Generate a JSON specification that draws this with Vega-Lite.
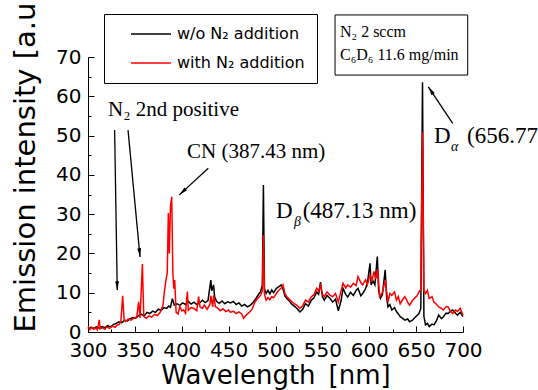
{
  "$schema": "https://vega.github.io/schema/vega-lite/v6.json",
  "width": 375,
  "height": 275,
  "autosize": "none",
  "padding": {"left": 88, "top": 57, "right": 75, "bottom": 58},
  "background": "white",
  "config": {
    "view": {"stroke": null},
    "axis": {
      "domainColor": "black", "tickColor": "black", "labelColor": "black", "titleColor": "black",
      "labelFont": "DejaVu Sans", "titleFont": "DejaVu Sans", "titleFontWeight": "normal",
      "grid": false, "domainWidth": 1, "tickWidth": 1
    }
  },
  "datasets": {
    "spec": [
      {"s":"a","w":300,"v":0.8},{"s":"a","w":303,"v":1.2},{"s":"a","w":306,"v":0.9},{"s":"a","w":309,"v":1.3},{"s":"a","w":312,"v":1.0},
      {"s":"a","w":315,"v":1.4},{"s":"a","w":318,"v":1.1},{"s":"a","w":321,"v":1.6},{"s":"a","w":324,"v":1.3},{"s":"a","w":327,"v":1.9},
      {"s":"a","w":330,"v":2.2},{"s":"a","w":333,"v":2.6},{"s":"a","w":336,"v":2.4},{"s":"a","w":339,"v":3.0},{"s":"a","w":342,"v":2.8},
      {"s":"a","w":345,"v":3.4},{"s":"a","w":348,"v":3.7},{"s":"a","w":351,"v":3.5},{"s":"a","w":354,"v":4.2},{"s":"a","w":357,"v":4.5},
      {"s":"a","w":360,"v":4.1},{"s":"a","w":363,"v":5.0},{"s":"a","w":366,"v":4.7},{"s":"a","w":369,"v":5.3},{"s":"a","w":372,"v":5.0},
      {"s":"a","w":375,"v":5.8},{"s":"a","w":378,"v":5.5},{"s":"a","w":381,"v":6.2},{"s":"a","w":384,"v":6.0},{"s":"a","w":386,"v":6.6},
      {"s":"a","w":388,"v":6.3},{"s":"a","w":390,"v":8.5},{"s":"a","w":392,"v":6.9},{"s":"a","w":395,"v":7.2},{"s":"a","w":398,"v":6.8},
      {"s":"a","w":401,"v":7.4},{"s":"a","w":404,"v":7.0},{"s":"a","w":407,"v":7.8},{"s":"a","w":410,"v":7.1},{"s":"a","w":413,"v":7.6},
      {"s":"a","w":416,"v":7.0},{"s":"a","w":419,"v":7.4},{"s":"a","w":422,"v":8.1},{"s":"a","w":425,"v":7.5},{"s":"a","w":428,"v":8.0},
      {"s":"a","w":430,"v":11.5},{"s":"a","w":431,"v":13.2},{"s":"a","w":432,"v":10.5},{"s":"a","w":434,"v":12.0},{"s":"a","w":435,"v":9.0},
      {"s":"a","w":437,"v":7.8},{"s":"a","w":440,"v":7.3},{"s":"a","w":443,"v":7.9},{"s":"a","w":446,"v":7.2},{"s":"a","w":449,"v":7.7},
      {"s":"a","w":452,"v":7.4},{"s":"a","w":455,"v":7.8},{"s":"a","w":458,"v":7.0},{"s":"a","w":461,"v":7.4},{"s":"a","w":464,"v":6.6},
      {"s":"a","w":467,"v":7.0},{"s":"a","w":470,"v":6.4},{"s":"a","w":473,"v":6.8},{"s":"a","w":476,"v":7.5},{"s":"a","w":479,"v":8.5},
      {"s":"a","w":482,"v":9.6},{"s":"a","w":484,"v":10.2},{"s":"a","w":486,"v":12.0},{"s":"a","w":487.1,"v":37.4},{"s":"a","w":488.2,"v":11.0},
      {"s":"a","w":490,"v":9.8},{"s":"a","w":492,"v":10.6},{"s":"a","w":494,"v":9.7},{"s":"a","w":496,"v":10.7},{"s":"a","w":498,"v":10.0},
      {"s":"a","w":501,"v":11.1},{"s":"a","w":504,"v":11.6},{"s":"a","w":506,"v":12.0},{"s":"a","w":508,"v":11.0},{"s":"a","w":510,"v":9.2},
      {"s":"a","w":512,"v":8.5},{"s":"a","w":514,"v":8.1},{"s":"a","w":517,"v":7.2},{"s":"a","w":520,"v":6.6},{"s":"a","w":523,"v":6.0},
      {"s":"a","w":526,"v":5.1},{"s":"a","w":529,"v":5.8},{"s":"a","w":532,"v":7.2},{"s":"a","w":535,"v":6.6},{"s":"a","w":538,"v":8.0},
      {"s":"a","w":541,"v":8.7},{"s":"a","w":544,"v":10.2},{"s":"a","w":546,"v":9.6},{"s":"a","w":548,"v":12.7},{"s":"a","w":550,"v":9.0},
      {"s":"a","w":552,"v":8.1},{"s":"a","w":555,"v":9.3},{"s":"a","w":558,"v":8.6},{"s":"a","w":561,"v":7.6},{"s":"a","w":564,"v":8.4},
      {"s":"a","w":567,"v":5.4},{"s":"a","w":570,"v":8.0},{"s":"a","w":572,"v":11.1},{"s":"a","w":575,"v":9.5},{"s":"a","w":577,"v":8.9},
      {"s":"a","w":580,"v":10.1},{"s":"a","w":583,"v":9.3},{"s":"a","w":586,"v":10.6},{"s":"a","w":588,"v":11.1},{"s":"a","w":591,"v":9.2},
      {"s":"a","w":593,"v":9.8},{"s":"a","w":596,"v":11.0},{"s":"a","w":598,"v":12.4},{"s":"a","w":600.8,"v":17.5},{"s":"a","w":602,"v":12.0},
      {"s":"a","w":604,"v":13.0},{"s":"a","w":606,"v":12.0},{"s":"a","w":608.6,"v":19.2},{"s":"a","w":610,"v":10.5},{"s":"a","w":612,"v":8.6},
      {"s":"a","w":614,"v":9.5},{"s":"a","w":617,"v":15.8},{"s":"a","w":618.5,"v":9.0},{"s":"a","w":620,"v":6.4},{"s":"a","w":622,"v":7.0},
      {"s":"a","w":624,"v":5.6},{"s":"a","w":627,"v":6.2},{"s":"a","w":629,"v":5.2},{"s":"a","w":631,"v":4.6},{"s":"a","w":633,"v":3.9},
      {"s":"a","w":636,"v":3.4},{"s":"a","w":638,"v":3.0},{"s":"a","w":641,"v":3.3},{"s":"a","w":643,"v":2.6},{"s":"a","w":646,"v":3.0},
      {"s":"a","w":648,"v":3.5},{"s":"a","w":651,"v":4.2},{"s":"a","w":653,"v":4.7},{"s":"a","w":655,"v":6.0},{"s":"a","w":656.8,"v":63.6},
      {"s":"a","w":658.3,"v":4.0},{"s":"a","w":660,"v":1.8},{"s":"a","w":662,"v":2.2},{"s":"a","w":664,"v":1.4},{"s":"a","w":667,"v":2.0},
      {"s":"a","w":669,"v":1.8},{"s":"a","w":672,"v":3.0},{"s":"a","w":674,"v":4.3},{"s":"a","w":677,"v":3.4},{"s":"a","w":679,"v":3.9},
      {"s":"a","w":682,"v":4.8},{"s":"a","w":684,"v":4.7},{"s":"a","w":687,"v":5.3},{"s":"a","w":689,"v":5.6},{"s":"a","w":692,"v":4.8},
      {"s":"a","w":694,"v":4.3},{"s":"a","w":697,"v":5.0},{"s":"a","w":700,"v":3.9},
      {"s":"b","w":300,"v":1.4},{"s":"b","w":302,"v":0.6},{"s":"b","w":304,"v":1.2},{"s":"b","w":306,"v":0.7},{"s":"b","w":308,"v":1.0},
      {"s":"b","w":310,"v":0.5},{"s":"b","w":312,"v":3.1},{"s":"b","w":313,"v":0.8},{"s":"b","w":315,"v":1.1},{"s":"b","w":318,"v":0.7},
      {"s":"b","w":320,"v":1.3},{"s":"b","w":323,"v":0.9},{"s":"b","w":326,"v":1.5},{"s":"b","w":329,"v":1.2},{"s":"b","w":331,"v":1.8},
      {"s":"b","w":333,"v":1.9},{"s":"b","w":335,"v":2.6},{"s":"b","w":337,"v":9.2},{"s":"b","w":338.5,"v":3.2},{"s":"b","w":340,"v":2.7},
      {"s":"b","w":343,"v":3.3},{"s":"b","w":346,"v":3.0},{"s":"b","w":349,"v":3.6},{"s":"b","w":352,"v":3.8},{"s":"b","w":354,"v":7.7},
      {"s":"b","w":355.5,"v":3.6},{"s":"b","w":358,"v":17.3},{"s":"b","w":359.5,"v":4.0},{"s":"b","w":362,"v":3.5},{"s":"b","w":365,"v":4.1},
      {"s":"b","w":368,"v":3.8},{"s":"b","w":371,"v":4.5},{"s":"b","w":374,"v":4.2},{"s":"b","w":377,"v":5.0},{"s":"b","w":380,"v":6.8},
      {"s":"b","w":381.5,"v":10.3},{"s":"b","w":383,"v":13.0},{"s":"b","w":384.5,"v":15.0},{"s":"b","w":385.7,"v":30.3},{"s":"b","w":386.7,"v":20.0},
      {"s":"b","w":388,"v":32.0},{"s":"b","w":389.3,"v":34.4},{"s":"b","w":390.5,"v":15.0},{"s":"b","w":391.5,"v":11.0},{"s":"b","w":392.5,"v":13.2},
      {"s":"b","w":394,"v":5.0},{"s":"b","w":396,"v":4.6},{"s":"b","w":398,"v":6.5},{"s":"b","w":400,"v":5.4},{"s":"b","w":402,"v":5.6},
      {"s":"b","w":404,"v":4.8},{"s":"b","w":406,"v":10.3},{"s":"b","w":407,"v":5.5},{"s":"b","w":410,"v":6.2},{"s":"b","w":413,"v":6.0},
      {"s":"b","w":416,"v":5.4},{"s":"b","w":418,"v":9.0},{"s":"b","w":419.5,"v":6.4},{"s":"b","w":422,"v":6.0},{"s":"b","w":424,"v":6.9},
      {"s":"b","w":427,"v":5.8},{"s":"b","w":430,"v":7.0},{"s":"b","w":431,"v":9.2},{"s":"b","w":433,"v":6.4},{"s":"b","w":434,"v":9.3},
      {"s":"b","w":436,"v":6.4},{"s":"b","w":438,"v":6.2},{"s":"b","w":441,"v":5.4},{"s":"b","w":444,"v":5.9},{"s":"b","w":447,"v":5.2},
      {"s":"b","w":450,"v":5.6},{"s":"b","w":452,"v":5.0},{"s":"b","w":455,"v":5.3},{"s":"b","w":458,"v":4.7},{"s":"b","w":461,"v":5.1},
      {"s":"b","w":464,"v":4.6},{"s":"b","w":466,"v":3.5},{"s":"b","w":469,"v":4.4},{"s":"b","w":472,"v":5.0},{"s":"b","w":475,"v":5.8},
      {"s":"b","w":478,"v":7.6},{"s":"b","w":481,"v":8.5},{"s":"b","w":484,"v":9.3},{"s":"b","w":486,"v":10.5},{"s":"b","w":487.1,"v":24.7},
      {"s":"b","w":488.2,"v":9.5},{"s":"b","w":490,"v":8.1},{"s":"b","w":492,"v":8.8},{"s":"b","w":494,"v":8.2},{"s":"b","w":496,"v":9.0},
      {"s":"b","w":498,"v":8.7},{"s":"b","w":501,"v":9.8},{"s":"b","w":503,"v":10.5},{"s":"b","w":506,"v":11.1},{"s":"b","w":508,"v":12.0},
      {"s":"b","w":510,"v":9.8},{"s":"b","w":512,"v":9.0},{"s":"b","w":514,"v":8.5},{"s":"b","w":517,"v":7.8},{"s":"b","w":520,"v":7.2},
      {"s":"b","w":523,"v":6.8},{"s":"b","w":526,"v":6.0},{"s":"b","w":529,"v":6.7},{"s":"b","w":532,"v":8.1},{"s":"b","w":535,"v":7.6},
      {"s":"b","w":538,"v":8.9},{"s":"b","w":541,"v":9.5},{"s":"b","w":544,"v":11.1},{"s":"b","w":546,"v":10.4},{"s":"b","w":548,"v":11.9},
      {"s":"b","w":550,"v":9.6},{"s":"b","w":552,"v":9.0},{"s":"b","w":555,"v":10.2},{"s":"b","w":558,"v":9.4},{"s":"b","w":561,"v":9.0},
      {"s":"b","w":564,"v":9.8},{"s":"b","w":567,"v":7.6},{"s":"b","w":570,"v":10.5},{"s":"b","w":572,"v":12.4},{"s":"b","w":575,"v":11.2},
      {"s":"b","w":577,"v":12.0},{"s":"b","w":580,"v":11.4},{"s":"b","w":583,"v":12.4},{"s":"b","w":586,"v":11.8},{"s":"b","w":588,"v":14.1},
      {"s":"b","w":591,"v":12.6},{"s":"b","w":593,"v":12.0},{"s":"b","w":596,"v":13.3},{"s":"b","w":598,"v":12.0},{"s":"b","w":600.8,"v":14.5},
      {"s":"b","w":603,"v":13.0},{"s":"b","w":605,"v":15.4},{"s":"b","w":607,"v":13.5},{"s":"b","w":609,"v":16.0},{"s":"b","w":611,"v":9.0},
      {"s":"b","w":614,"v":10.0},{"s":"b","w":617,"v":13.2},{"s":"b","w":618.5,"v":10.2},{"s":"b","w":620,"v":7.6},{"s":"b","w":622,"v":9.8},
      {"s":"b","w":624,"v":9.3},{"s":"b","w":627,"v":10.2},{"s":"b","w":629,"v":8.1},{"s":"b","w":631,"v":9.0},{"s":"b","w":633,"v":7.2},
      {"s":"b","w":636,"v":8.4},{"s":"b","w":638,"v":9.0},{"s":"b","w":641,"v":7.6},{"s":"b","w":643,"v":6.8},{"s":"b","w":646,"v":8.0},
      {"s":"b","w":648,"v":8.5},{"s":"b","w":651,"v":9.2},{"s":"b","w":653,"v":10.2},{"s":"b","w":655,"v":10.8},{"s":"b","w":656.8,"v":50.9},
      {"s":"b","w":658.3,"v":10.5},{"s":"b","w":660,"v":9.8},{"s":"b","w":662,"v":10.6},{"s":"b","w":664,"v":8.5},{"s":"b","w":667,"v":9.0},
      {"s":"b","w":669,"v":7.6},{"s":"b","w":672,"v":7.0},{"s":"b","w":674,"v":6.4},{"s":"b","w":677,"v":6.0},{"s":"b","w":679,"v":5.6},
      {"s":"b","w":682,"v":6.5},{"s":"b","w":684,"v":6.4},{"s":"b","w":687,"v":5.2},{"s":"b","w":689,"v":4.7},{"s":"b","w":692,"v":5.6},
      {"s":"b","w":694,"v":5.2},{"s":"b","w":697,"v":6.0},{"s":"b","w":700,"v":4.3}
    ],
    "arrows": [
      {"x":328.4,"y":51.4,"x2":331.2,"y2":10.7,"a":179},
      {"x":342.7,"y":51.4,"x2":355.5,"y2":19.1,"a":174.6},
      {"x":428.3,"y":41.7,"x2":397.4,"y2":34.9,"a":227.4},
      {"x":689.0,"y":53.1,"x2":663.0,"y2":62.4,"a":326.3}
    ],
    "labels": [
      {"x":321.3,"y":55.0,"t":"N₂ 2nd positive"},
      {"x":405.6,"y":44.3,"t":"CN (387.43 nm)"}
    ],
    "dlabels": [
      {"x":500.5,"y":29.0,"t":"D"},
      {"x":529.0,"y":29.0,"t":"(487.13 nm)"},
      {"x":669.1,"y":48.1,"t":"D"},
      {"x":704.3,"y":48.1,"t":"(656.77 nm)"}
    ],
    "greek": [
      {"x":519.7,"y":27.0,"t":"β"},
      {"x":687.2,"y":46.1,"t":"α"}
    ],
    "box": [
      {"x":563.5,"x2":705.0,"y":80.7,"y2":65.4}
    ],
    "boxtext": [
      {"x":568.8,"y":75.1,"t":"N₂ 2 sccm"},
      {"x":568.8,"y":69.2,"t":"C₆D₆ 11.6 mg/min"}
    ]
  },
  "layer": [
    {
      "data": {"name": "spec"},
      "mark": {"type": "line", "strokeWidth": 1.5},
      "encoding": {
        "x": {"field": "w", "type": "quantitative", "scale": {"domain": [300, 700], "nice": false, "zero": false},
          "axis": {"orient": "bottom", "values": [300,350,400,450,500,550,600,650,700], "tickSize": -6, "labelFontSize": 20, "labelPadding": 14,
            "labelOverlap": false, "labelFlush": false, "title": "Wavelength\u2002[nm]", "titleFontSize": 26, "titlePadding": 2}},
        "y": {"field": "v", "type": "quantitative", "scale": {"domain": [0, 70], "nice": false},
          "axis": {"orient": "left", "values": [0,10,20,30,40,50,60,70], "tickSize": -6, "labelFontSize": 20, "labelPadding": 13,
            "labelOverlap": false, "labelFlush": false, "title": "Emission intensity [a.u.]", "titleFontSize": 29, "titleAnchor": "start", "titlePadding": 15}},
        "color": {"field": "s", "type": "nominal", "scale": {"domain": ["a", "b"], "range": ["#000000", "#ff0000"]},
          "legend": {"orient": "none", "legendX": 16, "legendY": -43, "direction": "vertical", "title": null,
            "symbolType": "M1.4,0H9.4", "symbolSize": 100, "symbolStrokeWidth": 1.5, "labelFont": "DejaVu Sans", "labelFontSize": 16,
            "labelColor": "black", "labelOffset": 45, "strokeColor": "black", "fillColor": "white", "padding": 12, "rowPadding": 13, "labelLimit": 300,
            "labelExpr": "datum.label == 'a' ? 'w/o N₂ addition\u00a0\u00a0\u00a0' : 'with N₂ addition\u00a0\u00a0\u00a0'"}}
      }
    },
    {
      "data": {"name": "arrows"},
      "mark": {"type": "rule", "strokeWidth": 1.3, "color": "black"},
      "encoding": {
        "x": {"field": "x", "type": "quantitative", "scale": {"domain": [300, 700], "nice": false, "zero": false},
          "axis": {"orient": "bottom", "values": [325,375,425,475,525,575,625,675], "tickSize": -3, "labels": false, "domain": false, "title": null}},
        "y": {"field": "y", "type": "quantitative", "scale": {"domain": [0, 70], "nice": false},
          "axis": {"orient": "left", "values": [5,15,25,35,45,55,65], "tickSize": -3, "labels": false, "domain": false, "title": null}},
        "x2": {"field": "x2"},
        "y2": {"field": "y2"}
      }
    },
    {
      "data": {"name": "arrows"},
      "mark": {"type": "point", "shape": "M0,0L-0.35,1.6L0.35,1.6Z", "filled": true, "color": "black", "size": 120, "opacity": 1},
      "encoding": {
        "x": {"field": "x2", "type": "quantitative", "axis": null},
        "y": {"field": "y2", "type": "quantitative", "axis": null},
        "angle": {"field": "a", "type": "quantitative", "scale": null}
      }
    },
    {
      "data": {"name": "labels"},
      "mark": {"type": "text", "font": "Liberation Serif", "fontSize": 21, "align": "left", "baseline": "alphabetic", "color": "black"},
      "encoding": {
        "x": {"field": "x", "type": "quantitative", "axis": null},
        "y": {"field": "y", "type": "quantitative", "axis": null},
        "text": {"field": "t"}
      }
    },
    {
      "data": {"name": "dlabels"},
      "mark": {"type": "text", "font": "Liberation Serif", "fontSize": 23, "align": "left", "baseline": "alphabetic", "color": "black"},
      "encoding": {
        "x": {"field": "x", "type": "quantitative", "axis": null},
        "y": {"field": "y", "type": "quantitative", "axis": null},
        "text": {"field": "t"}
      }
    },
    {
      "data": {"name": "greek"},
      "mark": {"type": "text", "font": "Liberation Serif", "fontSize": 14, "fontStyle": "italic", "align": "left", "baseline": "alphabetic", "color": "black"},
      "encoding": {
        "x": {"field": "x", "type": "quantitative", "axis": null},
        "y": {"field": "y", "type": "quantitative", "axis": null},
        "text": {"field": "t"}
      }
    },
    {
      "data": {"name": "box"},
      "mark": {"type": "rect", "fill": "white", "stroke": "black", "strokeWidth": 1},
      "encoding": {
        "x": {"field": "x", "type": "quantitative", "axis": null},
        "x2": {"field": "x2"},
        "y": {"field": "y", "type": "quantitative", "axis": null},
        "y2": {"field": "y2"}
      }
    },
    {
      "data": {"name": "boxtext"},
      "mark": {"type": "text", "font": "Liberation Serif", "fontSize": 16, "align": "left", "baseline": "alphabetic", "color": "black"},
      "encoding": {
        "x": {"field": "x", "type": "quantitative", "axis": null},
        "y": {"field": "y", "type": "quantitative", "axis": null},
        "text": {"field": "t"}
      }
    }
  ],
  "resolve": {"axis": {"x": "independent", "y": "independent"}}
}
